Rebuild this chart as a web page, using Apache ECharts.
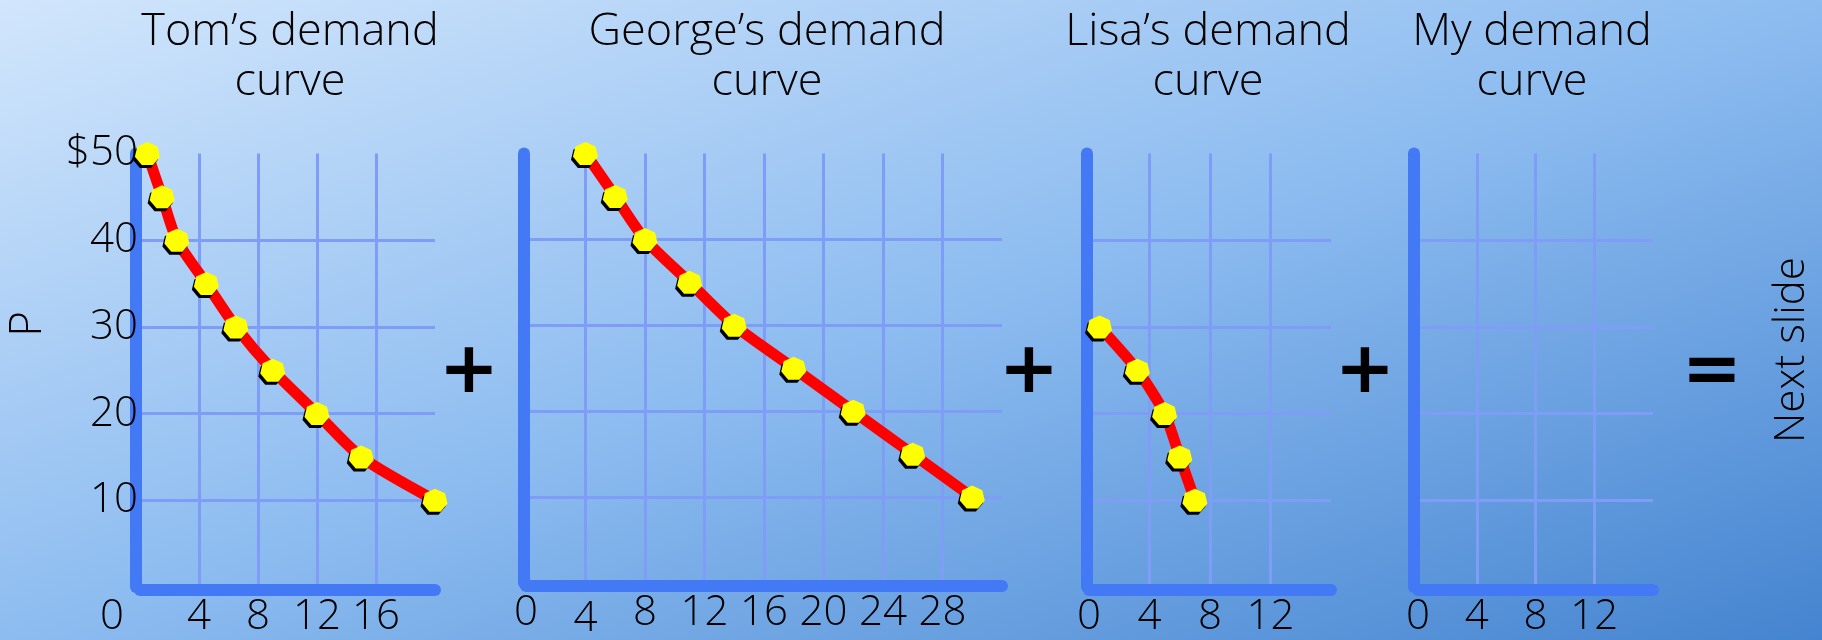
<!DOCTYPE html>
<html>
<head>
<meta charset="utf-8">
<title>Individual demand curves</title>
<script src="https://cdn.jsdelivr.net/npm/echarts@6/dist/echarts.min.js"></script>
<style>
  html, body { margin: 0; padding: 0; }
  #chart { width: 1822px; height: 640px; }
</style>
</head>
<body>
<div id="chart"></div>
<script>
// Demand schedules, each point is [quantity, price]
const tomDemand    = [[0.5, 50], [1.5, 45], [2.5, 40], [4.5, 35], [6.5, 30], [9, 25], [12, 20], [15, 15], [20, 10]];
const georgeDemand = [[4, 50], [6, 45], [8, 40], [11, 35], [14, 30], [18, 25], [22, 20], [26, 15], [30, 10]];
const lisaDemand   = [[0.7, 30], [3.2, 25], [5, 20], [6, 15], [7, 10]];
const myDemand     = [];   // blank panel, summed on the next slide

const panelTitles  = ['Tom\u2019s demand\ncurve', 'George\u2019s demand\ncurve', 'Lisa\u2019s demand\ncurve', 'My demand\ncurve'];
const quantityMax  = [20, 32, 16, 16];
const quantityStep = 4;
const priceMax     = 50;
const priceStep    = 10;
const currency     = '$';

const AXIS_BLUE = '#4479f6';
const GRID_BLUE = '#7f9cf7';
const FONT = '"Open Sans", "Noto Sans", sans-serif';
const HEPTAGON = 'path://M50,0L89.1,18.8L98.7,61.1L71.7,95L28.3,95L1.3,61.1L10.9,18.8Z';

// panel frames in pixels
const panels = [
  { left: 140,  width: 295, yOffset: 4, titleX: 285 },
  { left: 526,  width: 476, yOffset: 2, titleX: 762 },
  { left: 1089, width: 242, yOffset: 2, titleX: 1203 },
  { left: 1418, width: 235, yOffset: 4, titleX: 1527 }
];
const GRID_TOP = 153.5, GRID_BOTTOM = 53;

const labelFont = { color: '#000', fontFamily: FONT, fontSize: 42, fontWeight: 300 };
const axisLineStyle = { color: AXIS_BLUE, width: 12, cap: 'round' };
const splitLineStyle = { show: true, showMinLine: false, showMaxLine: false, lineStyle: { color: GRID_BLUE, width: 3 } };

const grids = panels.map(p => ({ left: p.left, width: p.width, top: GRID_TOP, bottom: GRID_BOTTOM }));

const xAxes = panels.map((p, i) => ({
  type: 'value', gridIndex: i, min: 0, max: quantityMax[i], interval: quantityStep,
  offset: 3,
  axisLine: { show: true, onZero: false, lineStyle: axisLineStyle },
  axisTick: { show: false },
  splitLine: splitLineStyle,
  axisLabel: Object.assign({
    show: true, showMaxLabel: false, margin: 6,
    formatter: v => {
      if (i === 0 && v === 0) return '{corner|0}';
      if (i === 1 && v === 4) return '{low|4}';
      return String(v);
    },
    rich: {
      corner: Object.assign({ padding: [0, 56, 0, 0] }, labelFont),
      low: Object.assign({ padding: [6, 0, 0, 0] }, labelFont)
    }
  }, labelFont)
}));

const yAxes = panels.map((p, i) => ({
  type: 'value', gridIndex: i, min: 0, max: priceMax, interval: priceStep,
  position: 'left', offset: p.yOffset,
  axisLine: { show: i !== 2, onZero: false, lineStyle: axisLineStyle },
  axisTick: { show: false },
  splitLine: splitLineStyle,
  axisLabel: i === 0 ? Object.assign({
    show: true, showMinLabel: false, margin: -2, padding: [0, 0, 19, 0],
    formatter: v => (v === priceMax ? currency + v : String(v))
  }, labelFont) : { show: false }
}));

// Lisa's vertical axis sits above her first point
yAxes.push({
  type: 'value', gridIndex: 2, min: 0, max: priceMax, position: 'left', offset: panels[2].yOffset, z: 3,
  axisLine: { show: true, onZero: false, lineStyle: axisLineStyle },
  axisTick: { show: false }, splitLine: { show: false }, axisLabel: { show: false }
});

const curves = [tomDemand, georgeDemand, lisaDemand, myDemand];
const series = curves.map((data, i) => ({
  type: 'line', xAxisIndex: i, yAxisIndex: i, data: data,
  smooth: 0.25, clip: false, silent: true,
  symbol: HEPTAGON, symbolSize: [25, 23],
  lineStyle: { color: '#ff0000', width: 11, cap: 'round', join: 'round' },
  itemStyle: { color: '#ffff00', shadowColor: '#000', shadowBlur: 0, shadowOffsetX: -2, shadowOffsetY: 3 },
  emphasis: { disabled: true }
}));

const titles = panelTitles.map((t, i) => ({
  text: t, left: panels[i].titleX, top: 2, textAlign: 'center',
  textStyle: { color: '#000', fontFamily: FONT, fontSize: 45, fontWeight: 300, lineHeight: 50 }
}));

const signFont = { fontFamily: '"DejaVu Sans", sans-serif', fontWeight: 'bold', fontSize: 72, fill: '#000', align: 'center', verticalAlign: 'middle' };
const sign = (ch, x) => ({ type: 'text', x: x, y: 373, style: Object.assign({ text: ch }, signFont) });

const chart = echarts.init(document.getElementById('chart'), null, { renderer: 'canvas' });
chart.setOption({
  animation: false,
  backgroundColor: {
    type: 'linear', global: true, x: 711, y: -250, x2: 1111, y2: 890,
    colorStops: [
      { offset: 0, color: '#d2e6fc' },
      { offset: 0.5, color: '#8dbcf0' },
      { offset: 1, color: '#4584d0' }
    ]
  },
  title: titles,
  grid: grids,
  xAxis: xAxes,
  yAxis: yAxes,
  series: series,
  graphic: [
    { type: 'text', x: 28, y: 324, rotation: Math.PI / 2,
      style: { text: 'P', fontFamily: FONT, fontSize: 44, fontWeight: 300, fill: '#000', align: 'center', verticalAlign: 'middle' } },
    sign('+', 469), sign('+', 1029), sign('+', 1365),
    sign('=', 1712),
    { type: 'text', x: 1792, y: 350, rotation: Math.PI / 2,
      style: { text: 'Next slide', fontFamily: FONT, fontSize: 42, fontWeight: 300, fill: '#000', align: 'center', verticalAlign: 'middle' } }
  ]
});
</script>
</body>
</html>
